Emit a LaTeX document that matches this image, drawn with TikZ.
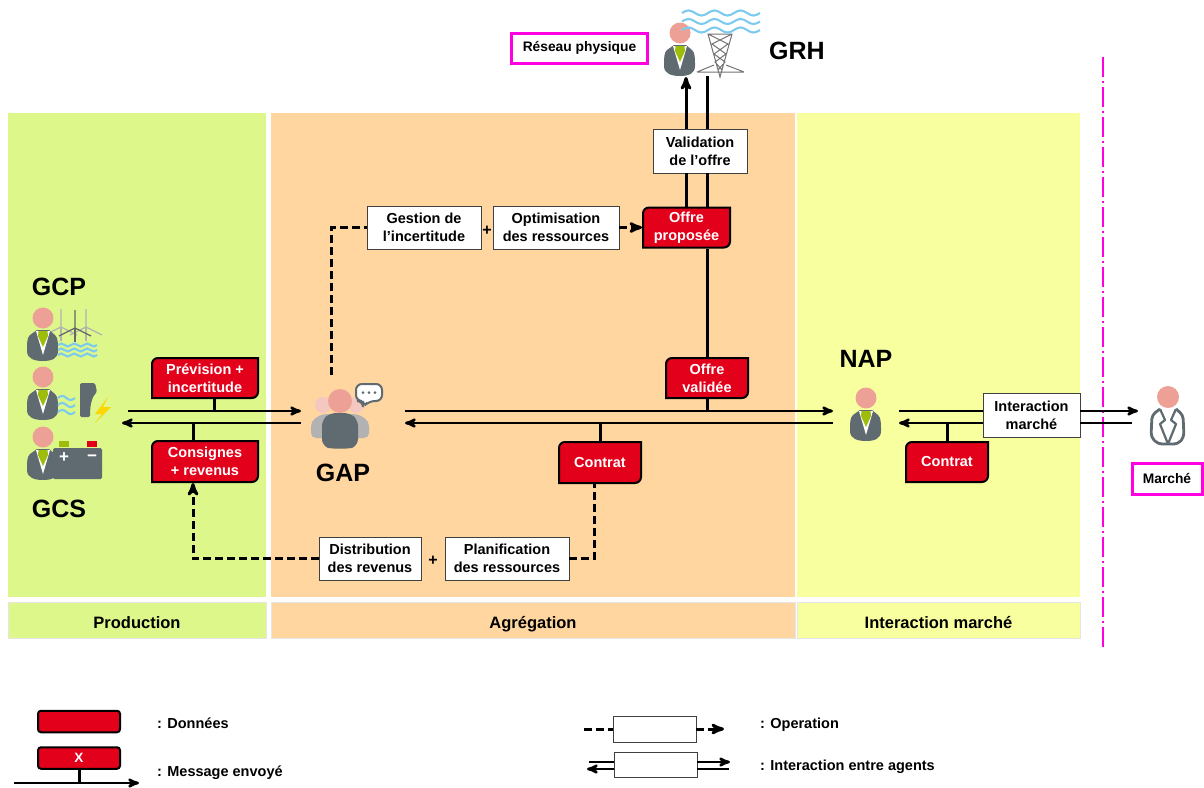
\documentclass[tikz,border=0pt]{standalone}
\usepackage{fontspec}
\setmainfont{Liberation Sans}
\usetikzlibrary{arrows,positioning}
\definecolor{prodgreen}{HTML}{DDF78A}
\definecolor{agrorange}{HTML}{FFD5A0}
\definecolor{mktyellow}{HTML}{F8FF9F}
\definecolor{datared}{HTML}{E3001B}
\definecolor{headpink}{HTML}{EDA196}
\definecolor{suitgray}{HTML}{5F6B70}
\definecolor{tiegreen}{HTML}{9DBD0A}
\definecolor{waveblue}{HTML}{7CCBEE}
\definecolor{roleline}{HTML}{FF00E0}
\tikzset{
  %Define standard arrow tip
  >=stealth',
  %Define style for zones
  zone/.style={rectangle, draw=none, inner sep=0pt},
  footer/.style={rectangle, draw=black!10, inner sep=0pt, outer sep=0pt, minimum height=36pt,
    text height=16pt, text depth=0pt,
    font=\fontsize{16.5}{20}\selectfont\bfseries},
  %Define style for boxes
  databox/.style={
    rectangle, inner sep=0pt, outer sep=0pt, text=white, align=center,
    font=\fontsize{14.5}{18}\selectfont\bfseries,
    path picture={
      \draw[line width=2pt, fill=datared]
        ([shift={(1pt,-7pt)}]path picture bounding box.north west)
        arc[start angle=180, end angle=90, radius=6pt]
        -- ([shift={(-1pt,-1pt)}]path picture bounding box.north east)
        -- ([shift={(-1pt,7pt)}]path picture bounding box.south east)
        arc[start angle=0, end angle=-90, radius=6pt]
        -- ([shift={(1pt,1pt)}]path picture bounding box.south west)
        -- cycle;}},
  legendbox/.style={
    rectangle, rounded corners=3pt, draw=black, line width=2pt, fill=datared,
    outer sep=0pt, minimum width=82pt, minimum height=21.5pt, inner sep=0pt, text=white,
    font=\fontsize{13.5}{16}\selectfont\bfseries},
  opbox/.style={
    rectangle, draw=black!75, line width=1pt, fill=white, inner sep=0pt, outer sep=0pt,
    align=center, font=\fontsize{14.5}{18}\selectfont\bfseries},
  rolebox/.style={
    rectangle, draw=roleline, line width=3pt, fill=white, inner sep=0pt,
    font=\fontsize{13.8}{16}\selectfont\bfseries},
  agentname/.style={font=\fontsize{25}{28}\selectfont\bfseries},
  legendtext/.style={anchor=base west, inner sep=0pt, font=\fontsize{14.5}{16}\selectfont\bfseries},
  % Define arrow styles
  pil/.style={->, line width=2.5pt},
  bar/.style={line width=2.5pt},
  stem/.style={line width=3pt},
  vpil/.style={line width=3pt},
  oppil/.style={line width=3pt, dash pattern=on 8pt off 4pt},
  % Define icons
  agent/.pic={
    \fill[headpink] (0,0) circle (10.5);
    \fill[suitgray] (-6,12) -- (-13,17) .. controls (-16,20) and (-16,24) .. (-16,33)
      .. controls (-16,41) and (-8,43) .. (0,43)
      .. controls (8,43) and (15,41) .. (15,33)
      .. controls (15,24) and (15,20) .. (12,17) -- (6,12) -- cycle;
    \fill[white] (-7,13) -- (0,37) -- (7,13) -- cycle;
    \fill[tiegreen] (-4.5,13) -- (4.5,13) -- (5,18) -- (0,29) -- (-5,18) -- cycle;
  },
  wavelines/.pic={
    \foreach \row in {0,5,10} {
      \draw[waveblue, line width=2.1pt] (0,\row) \foreach \k in {1,...,#1} {
        sin ++(3.25,-1.5) cos ++(3.25,1.5) sin ++(3.25,1.5) cos ++(3.25,-1.5)};
    }
  },
  turbine/.pic={
    \draw[#1, line width=1.4pt] (0,0) -- (0,14);
    \draw[#1, line width=1.2pt] (0,0) -- (0,-18) (0,0) -- (16,8) (0,0) -- (-16,8);
  },
  pylon/.pic={
    \draw[black!55, line width=1pt] (-12,0) -- (12,0) -- (0,43) -- cycle
      (-12,0) -- (8,10) -- (-6,20) -- (5,28) -- (-2,36)
      (12,0) -- (-8,10) -- (6,20) -- (-5,28) -- (2,36)
      (-23,38) -- (24,38) (-23,38) -- (-6,31) (24,38) -- (6,31);
  }
}
\begin{document}
\begin{tikzpicture}[x=1pt,y=-1pt]
  \useasboundingbox (0,0) rectangle (1204,787);
  % zones
  \node[zone, fill=prodgreen, minimum width=258pt, minimum height=484pt] (prodzone) at (137,355) {};
  \node[zone, fill=agrorange, minimum width=524pt, minimum height=484pt] (agrzone) at (533,355) {};
  \node[zone, fill=mktyellow, minimum width=283pt, minimum height=484pt] (mktzone) at (938.5,355) {};
  \node[footer, fill=prodgreen, minimum width=258pt] (prodfoot) at (137,620) {Production};
  \node[footer, fill=agrorange, minimum width=524pt] (agrfoot) at (533,620) {Agrégation};
  \node[footer, fill=mktyellow, minimum width=283pt] (mktfoot) at (938.5,620) {Interaction marché};
  \coordinate (limtop) at (1103,57);
  \coordinate (limbot) at (1103,648);
  \draw[roleline, line width=2pt, dash pattern=on 20pt off 4pt on 2pt off 4pt] (limtop) -- (limbot);

  % icons of the agents
  \pic at (61,327) {turbine=black!30};
  \pic at (86,327) {turbine=black!30};
  \pic at (75,328) {turbine=black!60};
  \pic at (43,318) {agent};
  \pic at (58,345) {wavelines=3};
  \pic at (43,377) {agent};
  \pic[xscale=1.3,yscale=1.4] at (58,398) {wavelines=1};
  \fill[suitgray, rounded corners=1.5pt] (80,383) -- (95,383) -- (97,392)
    .. controls (93,396) and (90,402) .. (90,417) -- (80,417) -- cycle;
  \fill[yellow!75!orange] (108,397) -- (95,414) -- (102,414) -- (95,423) -- (111,407) -- (103,407) -- cycle;
  \pic at (43,437) {agent};
  \fill[tiegreen] (59,441) rectangle (69,447);
  \fill[datared] (87,441) rectangle (97,447);
  \fill[suitgray, rounded corners=1.5pt] (53,448) rectangle (102,479);
  \node[text=white, font=\fontsize{17}{18}\selectfont\bfseries] (plusbat) at (64,458) {+};
  \node[text=white, font=\fontsize{17}{18}\selectfont\bfseries] (minusbat) at (92,458) {−};
  \pic at (680,33) {agent};
  \pic at (720,34) {pylon};
  \pic[xscale=2,yscale=1.7] at (682,13) {wavelines=3};
  \pic at (866,398) {agent};
  % group of producers
  \fill[headpink!60!white] (323,405) circle (8) (356,405) circle (8);
  \fill[black!30, rounded corners=5pt] (311,438) -- (311,421) -- (322,414) -- (358,414) -- (369,421) -- (369,438) -- cycle;
  \fill[headpink] (340,401) circle (12);
  \fill[suitgray, rounded corners=6pt] (322,445) -- (322,420) -- (330,413) -- (350,413) -- (358,420) -- (358,445) .. controls (350,449) and (330,449) .. cycle;
  \draw[suitgray, line width=2pt, fill=white, rounded corners=6pt] (356,384) -- (382,384) -- (382,401) -- (369,401) -- (363,407) -- (363,401) -- (356,401) -- cycle;
  \fill[suitgray] (363,392.5) circle (1.5) (369,392.5) circle (1.5) (375,392.5) circle (1.5);
  % market agent
  \fill[headpink] (1168,397) circle (11);
  \draw[suitgray, line width=2.8pt, rounded corners=4pt, line join=round]
    (1160,409) -- (1152,415) -- (1151,437) -- (1158,444) -- (1178,444) -- (1184,437) -- (1183,415) -- (1176,409);
  \draw[suitgray, line width=2.2pt, line join=round] (1160,409) -- (1165,420) -- (1160,424) -- (1168,444) -- (1176,424) -- (1171,420) -- (1176,409);

  % agent names
  \node[agentname] (gcp) at (59,287) {GCP};
  \node[agentname] (gcs) at (59,509) {GCS};
  \node[agentname] (gap) at (343,473) {GAP};
  \node[agentname] (nap) at (866,359) {NAP};
  \node[agentname] (grh) at (797,51) {GRH};

  % data and operations
  \node[databox, minimum width=108pt, minimum height=42pt] (prevision) at (205,378) {Prévision +\\incertitude};
  \node[databox, minimum width=108pt, minimum height=43pt] (consignes) at (205,461.5) {Consignes\\+ revenus};
  \node[opbox, minimum width=114pt, minimum height=43pt] (gestion) at (424,227.5) {Gestion de\\l’incertitude};
  \node[opbox, right=12pt of gestion, minimum width=126pt, minimum height=43pt] (optim) {Optimisation\\des ressources};
  \node[databox, right=23pt of optim, minimum width=89pt, minimum height=42pt] (proposee) {Offre\\proposée};
  \node[opbox, minimum width=94pt, minimum height=44pt] (validation) at (700,151) {Validation\\de l’offre};
  \node[databox, minimum width=84pt, minimum height=42pt] (validee) at (707,378) {Offre\\validée};
  \node[databox, minimum width=84pt, minimum height=43pt] (contrat) at (600,462.5) {Contrat};
  \node[opbox, minimum width=102pt, minimum height=43pt] (distrib) at (370,558.5) {Distribution\\des revenus};
  \node[opbox, right=24pt of distrib, minimum width=124pt, minimum height=43pt] (planif) {Planification\\des ressources};
  \node[databox, minimum width=84pt, minimum height=42pt] (contratnap) at (947,462) {Contrat};
  \node[opbox, minimum width=97pt, minimum height=44pt] (interaction) at (1031.5,415) {Interaction\\marché};
  \node[rolebox, minimum width=136pt, minimum height=30pt] (reseau) at (579.5,48) {Réseau physique};
  \node[rolebox, minimum width=70pt, minimum height=31pt] (marche) at (1167,479) {Marché};
  \node[font=\fontsize{16}{18}\selectfont\bfseries] (plusa) at (487,231) {+};
  \node[font=\fontsize{16}{18}\selectfont\bfseries] (plusb) at (433,561) {+};

  % ends of the lines
  \coordinate (produp) at (128,411);
  \coordinate (gapupin) at (301,411);
  \coordinate (proddn) at (122,423);
  \coordinate (gapdnout) at (301,423);
  \coordinate (gapupout) at (405,411);
  \coordinate (napupin) at (833,411);
  \coordinate (gapdnin) at (405,423);
  \coordinate (napdnout) at (833,423);
  \coordinate (napupout) at (899,411);
  \coordinate (mktup) at (1138,411);
  \coordinate (napdnin) at (899,423);
  \coordinate (mktdn) at (1132,423);
  \coordinate (gaptop) at (331,375);
  \coordinate (grhin) at (686,77);
  \coordinate (grhout) at (707,76);
  \coordinate (stemprev) at (214,411);
  \coordinate (stemcons) at (193,423);
  \coordinate (stemval) at (707,411);
  \coordinate (stemcont) at (600,423);
  \coordinate (stemnap) at (947,423);

  % messages between agents
  \draw[pil] (produp) -- (gapupin);
  \draw[pil] (gapdnout) -- (proddn);
  \draw[pil] (gapupout) -- (napupin);
  \draw[pil] (napdnout) -- (gapdnin);
  \draw[bar] (napupout) -- (napupout -| interaction.west);
  \draw[pil] (mktup -| interaction.east) -- (mktup);
  \draw[bar] (mktdn) -- (mktdn -| interaction.east);
  \draw[pil] (napdnin -| interaction.west) -- (napdnin);
  \draw[stem] (prevision.south -| stemprev) -- (stemprev);
  \draw[stem] (consignes.north -| stemcons) -- (stemcons);
  \draw[stem] (validee.south -| stemval) -- (stemval);
  \draw[stem] (contrat.north -| stemcont) -- (stemcont);
  \draw[stem] (contratnap.north -| stemnap) -- (stemnap);
  \draw[vpil] (proposee.north -| grhin) -- (validation.south -| grhin);
  \draw[vpil, ->] (validation.north -| grhin) -- (grhin);
  \draw[vpil] (grhout) -- (validation.north -| grhout);
  \draw[vpil] (validation.south -| grhout) -- (proposee.north -| grhout);
  \draw[vpil] (proposee.south -| grhout) -- (validee.north);

  % operations
  \draw[oppil] (gaptop) |- (gestion.west);
  \draw[oppil, ->] (optim.east) -- (proposee.west);
  \draw[oppil, ->] (distrib.west) -| ([xshift=-12pt]consignes.south);
  \draw[oppil] (planif.east) -| ([xshift=-6pt]contrat.south);

  % legend
  \node[legendbox] (legdata) at (79,721.5) {};
  \node[legendbox] (legmsg) at (79,758) {X};
  \coordinate (legmsgl) at (14,783);
  \coordinate (legmsgr) at (139,783);
  \draw[stem] (legmsg.south) -- (legmsg.south |- legmsgl);
  \draw[pil] (legmsgl) -- (legmsgr);
  \node[legendtext] (txtdata) at (157,728) {: Données};
  \node[legendtext] (txtmsg) at (157,776) {: Message envoyé};
  \node[opbox, minimum width=83pt, minimum height=26pt] (legop) at (654.5,729) {};
  \coordinate (legopl) at (584,729);
  \coordinate (legopr) at (724,729);
  \draw[oppil] (legopl) -- (legop.west);
  \draw[oppil, ->] (legop.east) -- (legopr);
  \node[opbox, minimum width=83pt, minimum height=25pt] (legint) at (655.5,764.5) {};
  \coordinate (legintal) at (589,762);
  \coordinate (leginta) at (730,762);
  \coordinate (legintbl) at (587,769);
  \coordinate (legintb) at (729,769);
  \draw[bar] (legintal) -- (legintal -| legint.west);
  \draw[pil] (legintbl -| legint.west) -- (legintbl);
  \draw[pil] (leginta -| legint.east) -- (leginta);
  \draw[bar] (legintb -| legint.east) -- (legintb);
  \node[legendtext] (txtop) at (760,728) {: Operation};
  \node[legendtext] (txtint) at (760,770) {: Interaction entre agents};
\end{tikzpicture}
\end{document}
